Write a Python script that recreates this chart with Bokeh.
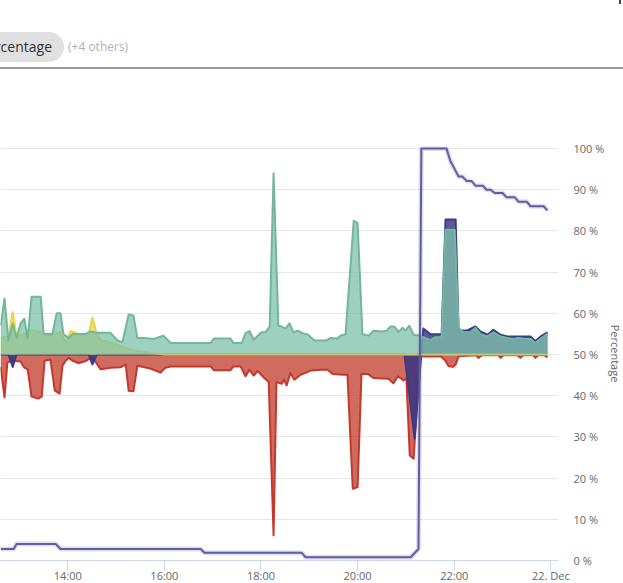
from bokeh.plotting import figure
from bokeh.layouts import column
from bokeh.models import Range1d, FixedTicker, ColumnDataSource, Div, GlobalInlineStyleSheet
from bokeh.embed import file_html
from bokeh.resources import INLINE

# ---- data (time in decimal hours of 21 Dec, values in %) ----
green_t = [12.61, 12.69, 12.77, 12.86, 12.94, 13.02, 13.10, 13.17, 13.25, 13.44, 13.50, 13.68, 13.77, 13.85,
           13.91, 14.02, 14.10, 14.37, 14.47, 14.60, 14.88, 15.03, 15.13, 15.26, 15.36, 15.44, 15.57, 15.78,
           15.98, 16.13, 16.96, 17.02, 17.37, 17.43, 17.60, 17.68, 17.76, 17.85, 18.01, 18.09, 18.18, 18.26,
           18.36, 18.43, 18.51, 18.59, 18.67, 18.76, 18.86, 18.96, 19.11, 19.34, 19.44, 19.58, 19.65, 19.75,
           19.92, 20.00, 20.10, 20.23, 20.33, 20.52, 20.60, 20.68, 20.76, 20.85, 20.93, 20.99, 21.07, 21.16,
           21.30, 21.36, 21.51, 21.61, 21.74, 21.82, 22.01, 22.09, 22.19, 22.34, 22.44, 22.54, 22.69, 22.81,
           22.96, 23.10, 23.23, 23.33, 23.48, 23.58, 23.68, 23.79, 23.93]
green_v = [57, 63.6, 53.4, 57.5, 54, 57.5, 58.7, 54, 64, 64, 55, 55, 60, 60,
           55, 54, 55, 55, 55.6, 55.3, 55.3, 53.4, 53, 59.7, 59.5, 54, 54, 53.8,
           54.6, 52.8, 52.8, 53.9, 53.9, 52.8, 52.8, 55.2, 55.7, 53.6, 55.4, 55.4, 56.8, 94,
           57, 56.8, 56.3, 57.6, 55.4, 55.8, 55.2, 54.9, 53.4, 53.4, 54, 53.9, 54.6, 54.9,
           82.5, 81.9, 54.9, 54.6, 55.8, 55.6, 55.8, 56.8, 56.8, 55.5, 56.5, 55.8, 57, 54.8,
           54.6, 54.2, 53.5, 54.2, 54.2, 80.3, 80.3, 56.5, 55.4, 55.4, 56.5, 55, 54.4, 55.4,
           54.4, 54, 53.8, 54, 53.8, 53.8, 52.8, 53.9, 55]

red_t = [12.61, 12.69, 12.75, 12.86, 13.02, 13.10, 13.17, 13.25, 13.39, 13.46, 13.52, 13.64, 13.73, 13.83,
         13.89, 13.95, 14.02, 14.10, 14.22, 14.37, 14.47, 14.57, 14.68, 14.78, 14.88, 15.09, 15.20, 15.26,
         15.36, 15.44, 15.71, 15.92, 16.02, 16.13, 16.96, 17.02, 17.37, 17.43, 17.58, 17.68, 17.76, 17.85,
         17.93, 18.05, 18.16, 18.26, 18.32, 18.43, 18.47, 18.53, 18.61, 18.69, 18.82, 19.03, 19.23, 19.38,
         19.48, 19.71, 19.79, 19.90, 20.00, 20.08, 20.21, 20.33, 20.64, 20.74, 20.83, 20.89, 20.95, 21.01,
         21.08, 21.16, 21.24, 21.30, 21.72, 21.82, 21.88, 21.97, 22.03, 22.09, 22.46, 22.50, 22.57, 22.92,
         22.96, 23.02, 23.31, 23.37, 23.43, 23.64, 23.68, 23.74, 23.87, 23.93]
red_v = [47, 39.6, 48.1, 48.5, 48.3, 46.8, 46.4, 39.8, 39.3, 39.8, 48.5, 48.8, 41.3, 40.5,
         47.3, 48.4, 49.2, 48.5, 47.9, 48.4, 49.2, 48.3, 46.4, 46.6, 46.8, 46.9, 47.6, 41.2,
         41.1, 47.3, 46.6, 45.6, 46.8, 47.1, 47.1, 46.2, 46.2, 47.1, 47.1, 44.7, 46.3, 44.9,
         46.0, 44.5, 43.3, 6.1, 43.3, 42.9, 43.9, 42.5, 45.5, 43.9, 45.1, 46.1, 46.3, 46.3,
         45.3, 45.1, 45.1, 17.4, 17.8, 45.3, 45.3, 44.3, 44.1, 43.0, 44.7, 44.3, 43.7, 44.2,
         25.5, 24.7, 40, 49.5, 49.6, 48.5, 47.2, 47.0, 47.6, 49.6, 49.8, 49.2, 49.8, 49.8,
         49.2, 49.8, 49.8, 49.2, 49.8, 49.8, 49.2, 49.8, 49.8, 49.3]

purple_t = [12.61, 12.77, 12.86, 12.94, 14.43, 14.51, 14.60, 20.97, 21.18, 21.36, 21.51, 21.74, 21.82,
            22.03, 22.09, 22.28, 22.44, 22.54, 22.69, 22.81, 22.96, 23.10, 23.58, 23.68, 23.79, 23.93]
purple_v = [50, 50, 47, 50, 50, 47.6, 50, 50, 29.6, 56.3, 54.9, 54.9, 82.8,
            82.8, 55.8, 55.9, 56.8, 55.6, 54.8, 56, 54.8, 54.4, 54.4, 53.3, 54.4, 55.4]

yellow_t = [12.61, 12.77, 12.86, 12.94, 13.10, 13.25, 13.44, 13.64, 13.85, 13.95, 14.06, 14.26, 14.43,
            14.51, 14.60, 14.68, 14.88, 15.09, 15.36, 15.71, 16.02, 23.93]
yellow_v = [54, 54.5, 60.3, 54.5, 55, 56, 55.5, 54.5, 55.5, 53, 55.7, 54.8, 55,
            59, 55, 53.5, 53, 52, 51, 50.4, 50, 50]

line_t = [12.61, 12.88, 12.94, 13.75, 13.85, 16.75, 16.83, 18.84, 18.92, 21.10, 21.26, 21.32, 21.84,
          21.92, 22.01, 22.09, 22.17, 22.26, 22.36, 22.44, 22.59, 22.67, 22.75, 22.84, 23.00, 23.08,
          23.25, 23.33, 23.50, 23.58, 23.85, 23.93]
line_v = [2.8, 2.8, 4, 4, 2.8, 2.8, 1.9, 1.9, 0.8, 0.8, 2.8, 100, 100,
          97, 95, 93.2, 93.2, 92.1, 92.1, 91, 91, 90, 90, 89.2, 89.2, 88.2,
          88.2, 87.1, 87.1, 86, 86, 85]

baseline = 50
x_ticks = [14, 16, 18, 20, 22, 24]
x_labels = ["14:00", "16:00", "18:00", "20:00", "22:00", "22. Dec"]
y_ticks = [0, 10, 20, 30, 40, 50, 60, 70, 80, 90, 100]
y_title = "Percentage"
chip_text = "Percentage"
chip_more = "(+4 others)"

FONT = "Open Sans"

# ---- header (filter chip + separator) ----
header_html = f"""
<div style="position:relative;width:623px;height:70px;overflow:hidden;background:#ffffff;font-family:'Open Sans',sans-serif;">
  <div style="position:absolute;left:-40px;top:32px;width:104px;height:30px;border-radius:15px;background:#e0e0e0;"></div>
  <div style="position:absolute;right:571px;top:32px;height:30px;line-height:30px;font-size:14px;color:#333333;white-space:nowrap;">{chip_text}</div>
  <div style="position:absolute;left:68px;top:32px;height:30px;line-height:30px;font-size:12px;color:#b0b0b0;white-space:nowrap;">{chip_more}</div>
  <div style="position:absolute;left:0px;top:67px;width:623px;height:2px;background:#9a9a9a;"></div>
  <div style="position:absolute;left:619px;top:0px;width:2px;height:4px;background:#444444;"></div>
</div>
"""
header = Div(text=header_html, width=623, height=70, margin=(0, 0, 0, 0))

# ---- main chart (its blank right/bottom padding runs past the window edge) ----
p = figure(width=632, height=515, x_range=Range1d(12.607, 24.159), y_range=Range1d(0, 100.5),
           y_axis_location="right", output_backend="svg", toolbar_location=None,
           min_border_left=0, min_border_top=76, min_border_right=74, min_border_bottom=25)
p.outline_line_color = None
p.xgrid.visible = False
p.ygrid.ticker = FixedTicker(ticks=y_ticks)
p.ygrid.grid_line_color = "#e6e6e6"

xa = p.xaxis[0]
xa.ticker = FixedTicker(ticks=x_ticks)
xa.major_label_overrides = {t: l for t, l in zip(x_ticks, x_labels)}
xa.axis_line_color = "#ccd6eb"
xa.major_tick_line_color = "#ccd6eb"
xa.major_tick_out = 10
xa.major_tick_in = 0
xa.minor_tick_out = 0
xa.minor_tick_in = 0
xa.minor_tick_line_color = None
xa.major_label_standoff = -3
xa.major_label_text_font = FONT
xa.major_label_text_font_size = "11px"
xa.major_label_text_color = "#666666"

ya = p.yaxis[0]
ya.ticker = FixedTicker(ticks=y_ticks)
ya.major_label_overrides = {t: f"{t} %" for t in y_ticks}
ya.axis_line_color = None
ya.major_tick_line_color = None
ya.major_tick_out = 0
ya.major_tick_in = 0
ya.minor_tick_out = 0
ya.minor_tick_in = 0
ya.minor_tick_line_color = None
ya.major_label_standoff = 15
ya.major_label_text_font = FONT
ya.major_label_text_font_size = "11px"
ya.major_label_text_color = "#666666"
ya.axis_label = y_title
ya.axis_label_text_font = FONT
ya.axis_label_text_font_size = "11px"
ya.axis_label_text_font_style = "normal"
ya.axis_label_text_color = "#666666"
ya.axis_label_standoff = 1


def area(t, v, fill, line, falpha=0.75):
    src = ColumnDataSource(dict(x=t, y=v, b=[baseline] * len(t)))
    p.varea(x="x", y1="b", y2="y", source=src, fill_color=fill, fill_alpha=falpha)
    p.line(x="x", y="y", source=src, line_color=line, line_width=2, line_join="round")


area(red_t, red_v, "#c0392b", "#c5382c")
area(purple_t, purple_v, "#2f2f7f", "#3b3b8a", 0.8)
area(yellow_t, yellow_v, "#e8d44d", "#e8d44d")
area(green_t, green_v, "#7cc0a9", "#72b69c")

ls = ColumnDataSource(dict(x=line_t, y=line_v))
p.line(x="x", y="y", source=ls, line_color="#5e5ea0", line_width=5, line_alpha=0.2, line_join="round")
p.line(x="x", y="y", source=ls, line_color="#5e5ea0", line_width=2, line_join="round")

layout = column(header, p,
                stylesheets=[GlobalInlineStyleSheet(css="html, body { overflow: hidden; }")])
open("out.html", "w").write(file_html(layout, INLINE))
